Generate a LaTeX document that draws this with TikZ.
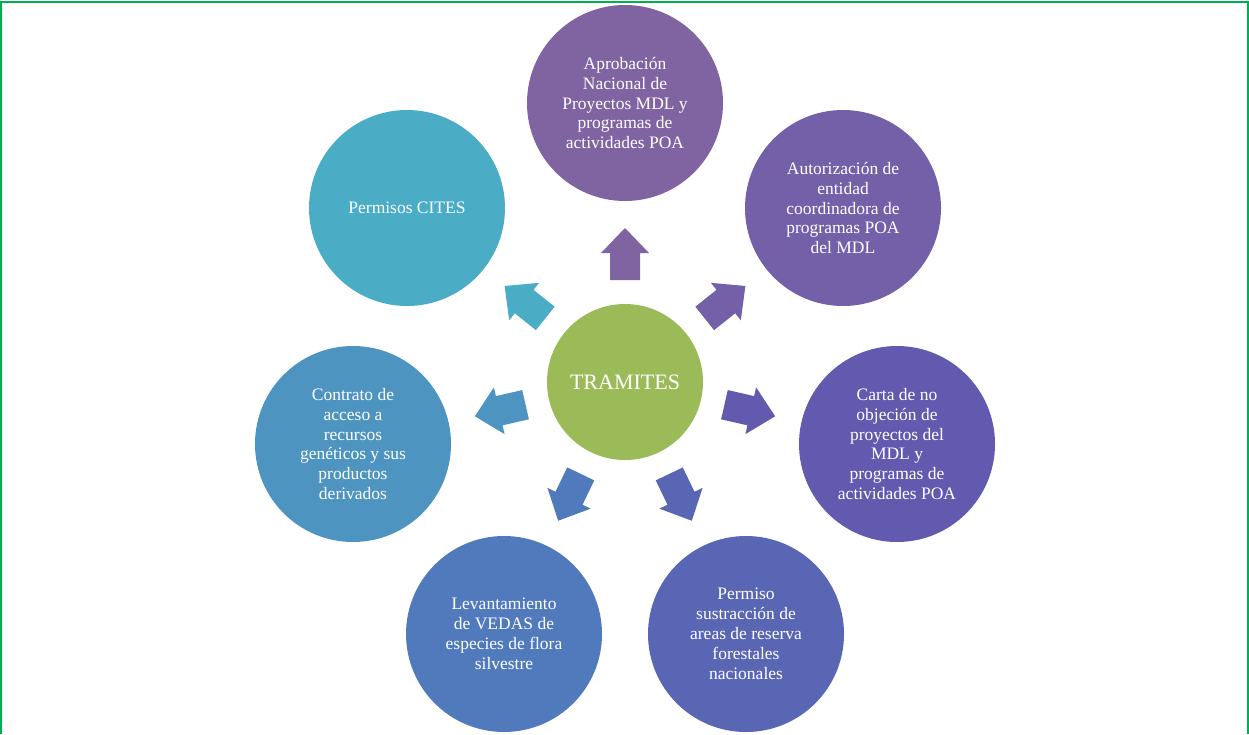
\documentclass[tikz,border=0pt]{standalone}
\usepackage{fontspec}
\setmainfont{Liberation Serif}
\begin{document}
\begin{tikzpicture}[x=1pt,y=-1pt,
  outer/.style={circle,minimum size=196pt,inner sep=0pt,text=white,align=center,
    font=\fontsize{17.5}{19.9}\selectfont},
  center/.style={circle,minimum size=156pt,inner sep=0pt,text=white,fill=cgreen,
    font=\fontsize{22}{24}\selectfont}]
\definecolor{cgreen}{HTML}{9BBB59}
\definecolor{frame}{HTML}{00B050}
\definecolor{c0}{HTML}{8064A2}
\definecolor{c1}{HTML}{7360A8}
\definecolor{c2}{HTML}{625AAF}
\definecolor{c3}{HTML}{5966B4}
\definecolor{c4}{HTML}{517ABC}
\definecolor{c5}{HTML}{4E94C1}
\definecolor{c6}{HTML}{4BACC6}
\useasboundingbox (0,0) rectangle (1249,734);
\draw[frame,line width=2pt] (1,734) -- (1,1.5) -- (1248,1.5) -- (1248,734);
\node[center] (tr) at (625,382) {TRAMITES};
% block arrows
\foreach \k in {0,...,6}{
  \pgfmathsetmacro{\ang}{90-\k*360/7}
  \fill[c\k,shift={(tr.center)},rotate=\ang]
    (102,-15) -- (129,-15) -- (129,-24) -- (154,0) -- (129,24) -- (129,15) -- (102,15) -- cycle;
}
\node[outer,fill=c0] (n0) at (625,103) {Aprobación\\Nacional de\\Proyectos MDL y\\programas de\\actividades POA};
\node[outer,fill=c1] (n1) at (843,208) {Autorización de\\entidad\\coordinadora de\\programas POA\\del MDL};
\node[outer,fill=c2] (n2) at (897,444) {Carta de no\\objeción de\\proyectos del\\MDL y\\programas de\\actividades POA};
\node[outer,fill=c3] (n3) at (746,634) {Permiso\\sustracción de\\areas de reserva\\forestales\\nacionales};
\node[outer,fill=c4] (n4) at (504,634) {Levantamiento\\de VEDAS de\\especies de flora\\silvestre};
\node[outer,fill=c5] (n5) at (353,444) {Contrato de\\acceso a\\recursos\\genéticos y sus\\productos\\derivados};
\node[outer,fill=c6] (n6) at (407,208) {Permisos CITES};
\end{tikzpicture}
\end{document}
